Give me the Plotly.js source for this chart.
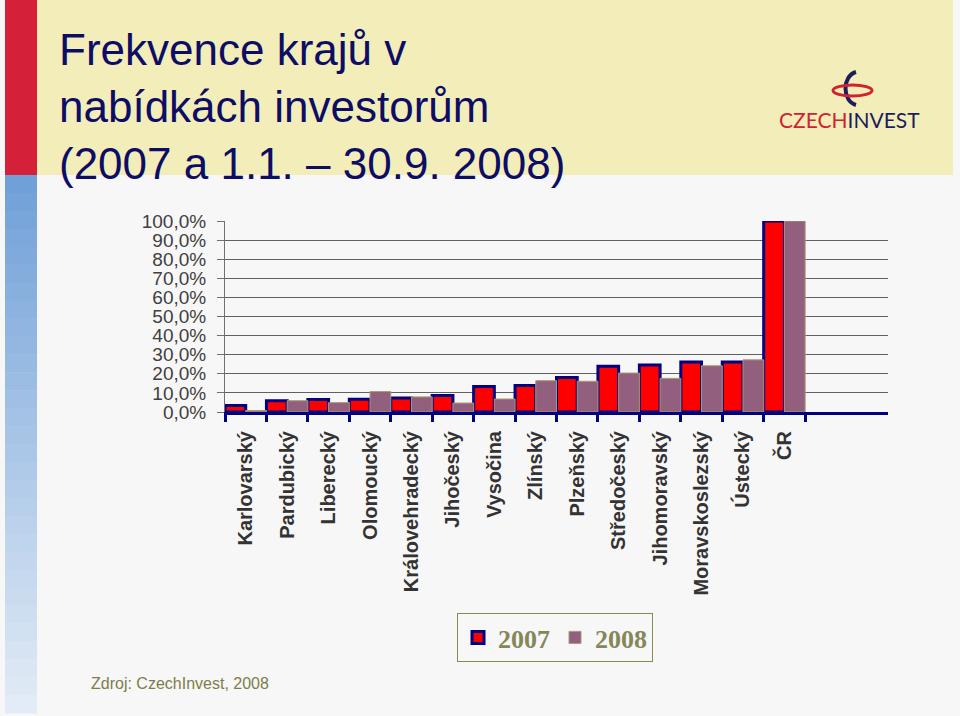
<!DOCTYPE html>
<html>
<head>
<meta charset="utf-8">
<script src="https://cdn.plot.ly/plotly-3.0.1.min.js"></script>
<style>
  html, body { margin: 0; padding: 0; background: #f7f7f7; }
  #chart { width: 960px; height: 716px; }
</style>
</head>
<body>
<div id="chart"></div>
<script>
// ---- data (percent) ----
const regions = ["Karlovarský", "Pardubický", "Liberecký", "Olomoucký", "Královehradecký",
  "Jihočeský", "Vysočina", "Zlínský", "Plzeňský", "Středočeský", "Jihomoravský",
  "Moravskoslezský", "Ústecký", "ČR"];
const values2007 = [3.4, 5.9, 6.5, 6.7, 7.3, 8.7, 13.3, 13.9, 18.0, 23.9, 24.6, 26.2, 26.2, 100];
const values2008 = [0.8, 5.9, 4.9, 10.7, 7.9, 4.7, 6.8, 16.4, 16.1, 20.4, 17.6, 24.2, 27.3, 100];
const seriesNames = ["2007", "2008"];
const yTicks = [0, 10, 20, 30, 40, 50, 60, 70, 80, 90, 100];
const yTickLabels = ["0,0%", "10,0%", "20,0%", "30,0%", "40,0%", "50,0%", "60,0%", "70,0%", "80,0%", "90,0%", "100,0%"];

// ---- geometry helpers (page pixels -> paper coords) ----
const W = 960, H = 716, L = 225, R = 72, T = 221, B = 304;
const PW = W - L - R, PH = H - T - B;
const px = x => (x - L) / PW;
const py = y => (H - B - y) / PH;

const traces = [
  {
    type: "bar", name: seriesNames[0], x: regions, y: values2007,
    marker: { color: "#ff0000", line: { color: "#000080", width: 3 } },
    cliponaxis: false, hoverinfo: "x+y"
  },
  {
    type: "bar", name: seriesNames[1], x: regions, y: values2008,
    marker: { color: "#935f7f", line: { color: "#a89a70", width: 1 } },
    cliponaxis: false, hoverinfo: "x+y"
  }
];

// decorative page shapes
const shapes = [
  { type: "rect", xref: "paper", yref: "paper", x0: px(37), x1: px(953), y0: py(0), y1: py(175),
    fillcolor: "#f3edb9", line: { width: 0 }, layer: "below" },
  { type: "rect", xref: "paper", yref: "paper", x0: px(5), x1: px(37), y0: py(0), y1: py(175),
    fillcolor: "#d42039", line: { width: 0 }, layer: "below" }
];
// blue gradient strip on the left
const steps = 30, gTop = 175, gBot = 713;
const c0 = [112, 160, 216], c1 = [226, 235, 246];
for (let i = 0; i < steps; i++) {
  const f = i / (steps - 1);
  const c = c0.map((v, k) => Math.round(v + (c1[k] - v) * f));
  const ya = gTop + (gBot - gTop) * i / steps, yb = gTop + (gBot - gTop) * (i + 1) / steps + 0.5;
  shapes.push({ type: "rect", xref: "paper", yref: "paper", x0: px(5), x1: px(37), y0: py(ya), y1: py(yb),
    fillcolor: `rgb(${c[0]},${c[1]},${c[2]})`, line: { width: 0 }, layer: "below" });
}
// CzechInvest logo symbol
shapes.push({ type: "path", xref: "paper", yref: "paper",
  path: `M ${px(856)} ${py(72)} C ${px(842)} ${py(76)}, ${px(842)} ${py(101)}, ${px(856)} ${py(105)}`,
  line: { color: "#1d1d5c", width: 4 } });
shapes.push({ type: "circle", xref: "paper", yref: "paper", x0: px(833), x1: px(872), y0: py(85), y1: py(96),
  line: { color: "#d0232f", width: 3 } });

const layout = {
  width: W, height: H,
  margin: { l: L, r: R, t: T, b: B, pad: 0 },
  paper_bgcolor: "#f7f7f7",
  plot_bgcolor: "#f7f7f7",
  separators: ", ",
  barmode: "group", bargap: 0, bargroupgap: 0,
  showlegend: true,
  title: {
    text: "Frekvence krajů v<br>nabídkách investorům<br>(2007 a 1.1. – 30.9. 2008)",
    font: { family: "Liberation Sans, Arial, sans-serif", size: 44, color: "#0d0d66" },
    x: 59 / W, xanchor: "left", xref: "container",
    y: 1 - 65 / H, yanchor: "top", yref: "container"
  },
  xaxis: {
    type: "category", categoryorder: "array", categoryarray: regions,
    range: [-0.5, 15.5],
    showline: true, linecolor: "#000080", linewidth: 3,
    ticks: "outside", tickson: "boundaries", ticklen: 7, tickwidth: 3, tickcolor: "#000080",
    tickangle: -90, ticklabelstandoff: 8,
    tickfont: { family: "Liberation Sans, Arial, sans-serif", size: 20, color: "#333333", weight: "bold" },
    showgrid: false, zeroline: false, fixedrange: true
  },
  yaxis: {
    range: [0, 100], tickmode: "array", tickvals: yTicks, ticktext: yTickLabels,
    showline: true, linecolor: "#707070", linewidth: 1,
    ticks: "outside", ticklen: 7, tickwidth: 1, tickcolor: "#707070",
    ticklabelstandoff: 7,
    showgrid: true, gridcolor: "#606060", gridwidth: 1, zeroline: false,
    tickfont: { family: "Liberation Sans, Arial, sans-serif", size: 19, color: "#404040" },
    fixedrange: true
  },
  legend: {
    orientation: "h", x: px(457), xanchor: "left", y: py(613), yanchor: "top",
    bgcolor: "#f7f7f7", bordercolor: "#8a8a55", borderwidth: 1,
    font: { family: "Liberation Serif, Times New Roman, serif", size: 26, color: "#85875a", weight: "bold" },
    itemwidth: 30, traceorder: "normal"
  },
  shapes: shapes,
  annotations: [
    { xref: "paper", yref: "paper", x: px(89), y: py(683), xanchor: "left", yanchor: "middle",
      text: "Zdroj: CzechInvest, 2008", showarrow: false,
      font: { family: "Liberation Sans, Arial, sans-serif", size: 16, color: "#7d7d4a" } },
    { xref: "paper", yref: "paper", x: px(849), y: py(119), xanchor: "center", yanchor: "middle",
      text: "CZECH<span style=\"color:#1d1d5c\">INVEST</span>", showarrow: false,
      font: { family: "Lato, sans-serif", size: 21, color: "#d0232f" } }
  ]
};

Plotly.newPlot("chart", traces, layout, { displayModeBar: false, staticPlot: true });
</script>
</body>
</html>
